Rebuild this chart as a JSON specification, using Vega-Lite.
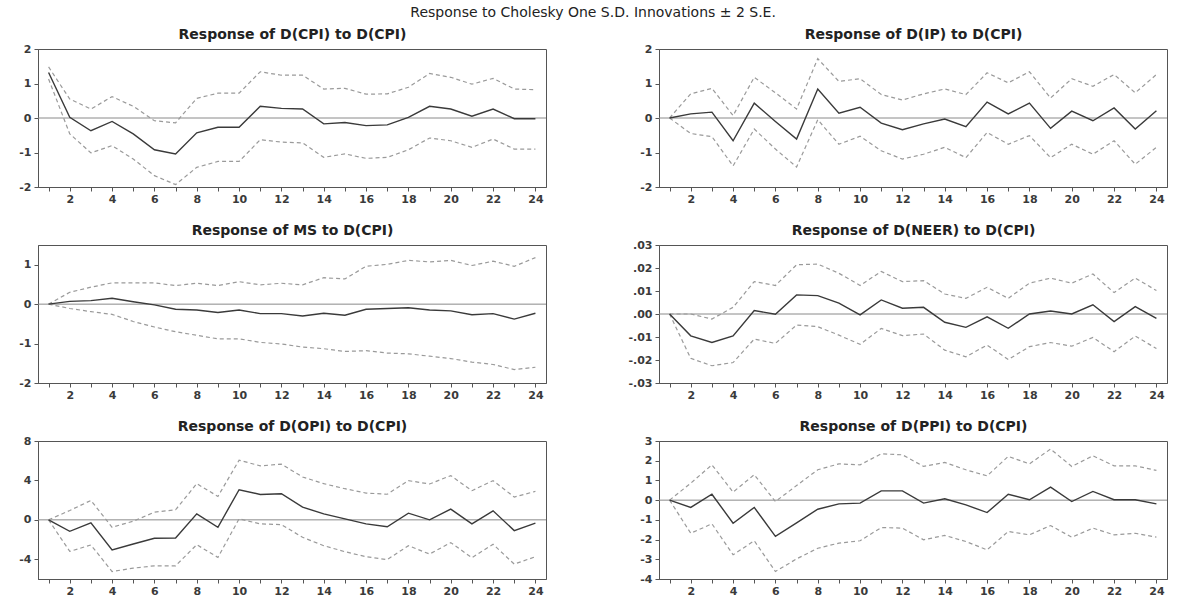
{
  "$schema": "https://vega.github.io/schema/vega-lite/v6.json",
  "background": "white",
  "padding": {"left": 18, "top": 5, "right": 4, "bottom": 0},
  "title": {"text": "Response to Cholesky One S.D. Innovations ± 2 S.E.", "fontSize": 14, "fontWeight": "normal", "anchor": "middle", "offset": 7},
  "datasets": {
    "cpi": [
      {"t": 1, "r": 1.32, "u": 1.48, "l": 1.13},
      {"t": 2, "r": 0.02, "u": 0.55, "l": -0.46},
      {"t": 3, "r": -0.37, "u": 0.26, "l": -1.01},
      {"t": 4, "r": -0.10, "u": 0.62, "l": -0.80},
      {"t": 5, "r": -0.46, "u": 0.34, "l": -1.19},
      {"t": 6, "r": -0.92, "u": -0.08, "l": -1.67},
      {"t": 7, "r": -1.04, "u": -0.14, "l": -1.93},
      {"t": 8, "r": -0.43, "u": 0.57, "l": -1.43},
      {"t": 9, "r": -0.27, "u": 0.72, "l": -1.26},
      {"t": 10, "r": -0.27, "u": 0.72, "l": -1.26},
      {"t": 11, "r": 0.34, "u": 1.34, "l": -0.63},
      {"t": 12, "r": 0.28, "u": 1.24, "l": -0.70},
      {"t": 13, "r": 0.26, "u": 1.24, "l": -0.72},
      {"t": 14, "r": -0.17, "u": 0.84, "l": -1.14},
      {"t": 15, "r": -0.13, "u": 0.86, "l": -1.04},
      {"t": 16, "r": -0.22, "u": 0.69, "l": -1.17},
      {"t": 17, "r": -0.20, "u": 0.70, "l": -1.14},
      {"t": 18, "r": 0.02, "u": 0.89, "l": -0.92},
      {"t": 19, "r": 0.34, "u": 1.29, "l": -0.58},
      {"t": 20, "r": 0.26, "u": 1.18, "l": -0.66},
      {"t": 21, "r": 0.05, "u": 0.98, "l": -0.85},
      {"t": 22, "r": 0.26, "u": 1.15, "l": -0.61},
      {"t": 23, "r": -0.02, "u": 0.84, "l": -0.90},
      {"t": 24, "r": -0.02, "u": 0.82, "l": -0.90}
    ],
    "ip": [
      {"t": 1, "r": 0, "u": 0, "l": 0},
      {"t": 2, "r": 0.12, "u": 0.70, "l": -0.45},
      {"t": 3, "r": 0.17, "u": 0.86, "l": -0.54},
      {"t": 4, "r": -0.66, "u": 0.07, "l": -1.39},
      {"t": 5, "r": 0.43, "u": 1.18, "l": -0.32},
      {"t": 6, "r": -0.10, "u": 0.73, "l": -0.90},
      {"t": 7, "r": -0.61, "u": 0.26, "l": -1.42},
      {"t": 8, "r": 0.84, "u": 1.72, "l": -0.05},
      {"t": 9, "r": 0.14, "u": 1.06, "l": -0.76},
      {"t": 10, "r": 0.31, "u": 1.14, "l": -0.53},
      {"t": 11, "r": -0.15, "u": 0.68, "l": -0.95},
      {"t": 12, "r": -0.34, "u": 0.52, "l": -1.19},
      {"t": 13, "r": -0.17, "u": 0.70, "l": -1.05},
      {"t": 14, "r": -0.03, "u": 0.84, "l": -0.85},
      {"t": 15, "r": -0.25, "u": 0.68, "l": -1.15},
      {"t": 16, "r": 0.46, "u": 1.31, "l": -0.42},
      {"t": 17, "r": 0.12, "u": 1.02, "l": -0.76},
      {"t": 18, "r": 0.43, "u": 1.34, "l": -0.51},
      {"t": 19, "r": -0.30, "u": 0.58, "l": -1.15},
      {"t": 20, "r": 0.20, "u": 1.14, "l": -0.76},
      {"t": 21, "r": -0.08, "u": 0.92, "l": -1.05},
      {"t": 22, "r": 0.29, "u": 1.26, "l": -0.66},
      {"t": 23, "r": -0.32, "u": 0.73, "l": -1.34},
      {"t": 24, "r": 0.21, "u": 1.26, "l": -0.85}
    ],
    "ms": [
      {"t": 1, "r": 0, "u": 0, "l": 0},
      {"t": 2, "r": 0.07, "u": 0.30, "l": -0.11},
      {"t": 3, "r": 0.09, "u": 0.43, "l": -0.19},
      {"t": 4, "r": 0.15, "u": 0.54, "l": -0.26},
      {"t": 5, "r": 0.06, "u": 0.54, "l": -0.44},
      {"t": 6, "r": -0.02, "u": 0.54, "l": -0.58},
      {"t": 7, "r": -0.13, "u": 0.47, "l": -0.70},
      {"t": 8, "r": -0.15, "u": 0.53, "l": -0.79},
      {"t": 9, "r": -0.21, "u": 0.47, "l": -0.88},
      {"t": 10, "r": -0.15, "u": 0.57, "l": -0.88},
      {"t": 11, "r": -0.24, "u": 0.49, "l": -0.97},
      {"t": 12, "r": -0.24, "u": 0.53, "l": -1.01},
      {"t": 13, "r": -0.30, "u": 0.49, "l": -1.09},
      {"t": 14, "r": -0.23, "u": 0.67, "l": -1.13},
      {"t": 15, "r": -0.28, "u": 0.64, "l": -1.20},
      {"t": 16, "r": -0.13, "u": 0.96, "l": -1.18},
      {"t": 17, "r": -0.11, "u": 1.01, "l": -1.24},
      {"t": 18, "r": -0.09, "u": 1.11, "l": -1.26},
      {"t": 19, "r": -0.15, "u": 1.07, "l": -1.32},
      {"t": 20, "r": -0.17, "u": 1.11, "l": -1.38},
      {"t": 21, "r": -0.27, "u": 0.98, "l": -1.47},
      {"t": 22, "r": -0.24, "u": 1.09, "l": -1.53},
      {"t": 23, "r": -0.38, "u": 0.96, "l": -1.66},
      {"t": 24, "r": -0.23, "u": 1.18, "l": -1.60}
    ],
    "neer": [
      {"t": 1, "r": 0, "u": 0, "l": 0},
      {"t": 2, "r": -0.0095, "u": 0.0000, "l": -0.0193},
      {"t": 3, "r": -0.0124, "u": -0.0022, "l": -0.0225},
      {"t": 4, "r": -0.0095, "u": 0.0029, "l": -0.0211},
      {"t": 5, "r": 0.0015, "u": 0.0141, "l": -0.0109},
      {"t": 6, "r": -0.0001, "u": 0.0124, "l": -0.0128},
      {"t": 7, "r": 0.0083, "u": 0.0214, "l": -0.0048},
      {"t": 8, "r": 0.0080, "u": 0.0217, "l": -0.0055},
      {"t": 9, "r": 0.0047, "u": 0.0177, "l": -0.0092},
      {"t": 10, "r": -0.0004, "u": 0.0124, "l": -0.0132},
      {"t": 11, "r": 0.0061, "u": 0.0185, "l": -0.0063},
      {"t": 12, "r": 0.0025, "u": 0.0141, "l": -0.0094},
      {"t": 13, "r": 0.0029, "u": 0.0145, "l": -0.0087},
      {"t": 14, "r": -0.0036, "u": 0.0087, "l": -0.0157},
      {"t": 15, "r": -0.0058, "u": 0.0068, "l": -0.0186},
      {"t": 16, "r": -0.0012, "u": 0.0116, "l": -0.0135},
      {"t": 17, "r": -0.0062, "u": 0.0068, "l": -0.0198},
      {"t": 18, "r": 0.0000, "u": 0.0134, "l": -0.0142},
      {"t": 19, "r": 0.0013, "u": 0.0156, "l": -0.0124},
      {"t": 20, "r": 0.0000, "u": 0.0134, "l": -0.0140},
      {"t": 21, "r": 0.0040, "u": 0.0174, "l": -0.0102},
      {"t": 22, "r": -0.0033, "u": 0.0093, "l": -0.0164},
      {"t": 23, "r": 0.0032, "u": 0.0156, "l": -0.0096},
      {"t": 24, "r": -0.0019, "u": 0.0102, "l": -0.0150}
    ],
    "opi": [
      {"t": 1, "r": 0, "u": 0, "l": 0},
      {"t": 2, "r": -1.16, "u": 0.95, "l": -3.20},
      {"t": 3, "r": -0.31, "u": 1.97, "l": -2.55},
      {"t": 4, "r": -3.06, "u": -0.75, "l": -5.24},
      {"t": 5, "r": -2.45, "u": -0.14, "l": -4.90},
      {"t": 6, "r": -1.87, "u": 0.78, "l": -4.66},
      {"t": 7, "r": -1.84, "u": 1.02, "l": -4.66},
      {"t": 8, "r": 0.61, "u": 3.67, "l": -2.52},
      {"t": 9, "r": -0.75, "u": 2.38, "l": -3.81},
      {"t": 10, "r": 3.06, "u": 6.05, "l": 0.10},
      {"t": 11, "r": 2.58, "u": 5.48, "l": -0.41},
      {"t": 12, "r": 2.65, "u": 5.65, "l": -0.48},
      {"t": 13, "r": 1.29, "u": 4.35, "l": -1.77},
      {"t": 14, "r": 0.61, "u": 3.67, "l": -2.62},
      {"t": 15, "r": 0.10, "u": 3.16, "l": -3.23},
      {"t": 16, "r": -0.41, "u": 2.72, "l": -3.74},
      {"t": 17, "r": -0.70, "u": 2.60, "l": -4.03},
      {"t": 18, "r": 0.68, "u": 3.98, "l": -2.62},
      {"t": 19, "r": 0.00, "u": 3.64, "l": -3.47},
      {"t": 20, "r": 1.09, "u": 4.49, "l": -2.31},
      {"t": 21, "r": -0.41, "u": 2.96, "l": -3.84},
      {"t": 22, "r": 0.92, "u": 3.98, "l": -2.48},
      {"t": 23, "r": -1.09, "u": 2.31, "l": -4.49},
      {"t": 24, "r": -0.34, "u": 2.89, "l": -3.74}
    ],
    "ppi": [
      {"t": 1, "r": 0, "u": 0, "l": 0},
      {"t": 2, "r": -0.37, "u": 0.86, "l": -1.68},
      {"t": 3, "r": 0.30, "u": 1.79, "l": -1.20},
      {"t": 4, "r": -1.17, "u": 0.41, "l": -2.77},
      {"t": 5, "r": -0.37, "u": 1.29, "l": -2.06},
      {"t": 6, "r": -1.84, "u": -0.07, "l": -3.62},
      {"t": 7, "r": -1.15, "u": 0.74, "l": -2.98},
      {"t": 8, "r": -0.46, "u": 1.54, "l": -2.44},
      {"t": 9, "r": -0.19, "u": 1.84, "l": -2.18},
      {"t": 10, "r": -0.15, "u": 1.79, "l": -2.06},
      {"t": 11, "r": 0.47, "u": 2.35, "l": -1.39},
      {"t": 12, "r": 0.47, "u": 2.30, "l": -1.42},
      {"t": 13, "r": -0.15, "u": 1.71, "l": -2.01},
      {"t": 14, "r": 0.07, "u": 1.91, "l": -1.79},
      {"t": 15, "r": -0.24, "u": 1.54, "l": -2.10},
      {"t": 16, "r": -0.63, "u": 1.23, "l": -2.52},
      {"t": 17, "r": 0.30, "u": 2.22, "l": -1.59},
      {"t": 18, "r": 0.02, "u": 1.84, "l": -1.76},
      {"t": 19, "r": 0.66, "u": 2.59, "l": -1.29},
      {"t": 20, "r": -0.07, "u": 1.71, "l": -1.88},
      {"t": 21, "r": 0.44, "u": 2.25, "l": -1.42},
      {"t": 22, "r": 0.02, "u": 1.74, "l": -1.76},
      {"t": 23, "r": 0.02, "u": 1.74, "l": -1.68},
      {"t": 24, "r": -0.19, "u": 1.51, "l": -1.88}
    ]
  },
  "columns": 2,
  "align": "each",
  "spacing": {"row": 16, "column": 80},
  "concat": [
    {
      "width": 508, "height": 138,
      "data": {"name": "cpi"},
      "layer": [
        {"transform": [{"filter": "datum.t == 1"}], "mark": {"type": "rule", "color": "#8a8a8a", "strokeWidth": 1}, "encoding": {"y": {"datum": 0, "type": "quantitative", "scale": {"domain": [-2, 2], "nice": false, "zero": false}, "axis": {"values": [-2, -1, 0, 1, 2], "labelExpr": "replace(datum.label, '−', '-')", "title": null}}}},
        {"mark": {"type": "line", "color": "#9a9a9a", "strokeWidth": 1.2, "strokeDash": [4, 3]}, "encoding": {"x": {"field": "t", "type": "quantitative", "scale": {"domain": [0.5, 24.5], "nice": false, "zero": false}, "axis": {"orient": "bottom", "values": [1,2,3,4,5,6,7,8,9,10,11,12,13,14,15,16,17,18,19,20,21,22,23,24], "labelExpr": "datum.value % 2 == 0 ? datum.label : ''", "title": null}}, "y": {"field": "u", "type": "quantitative", "scale": {"domain": [-2, 2], "nice": false, "zero": false}, "axis": {"values": [-2, -1, 0, 1, 2], "labelExpr": "replace(datum.label, '−', '-')", "title": null}}}},
        {"mark": {"type": "line", "color": "#9a9a9a", "strokeWidth": 1.2, "strokeDash": [4, 3]}, "encoding": {"x": {"field": "t", "type": "quantitative", "scale": {"domain": [0.5, 24.5], "nice": false, "zero": false}, "axis": {"orient": "top", "title": "Response of D(CPI) to D(CPI)", "labels": false, "ticks": false, "domain": false, "minExtent": 0, "maxExtent": 0}}, "y": {"field": "l", "type": "quantitative", "scale": {"domain": [-2, 2], "nice": false, "zero": false}, "axis": {"values": [-2, -1, 0, 1, 2], "labelExpr": "replace(datum.label, '−', '-')", "title": null}}}},
        {"mark": {"type": "line", "color": "#3a3a3a", "strokeWidth": 1.4}, "encoding": {"x": {"field": "t", "type": "quantitative", "scale": {"domain": [0.5, 24.5], "nice": false, "zero": false}, "axis": null}, "y": {"field": "r", "type": "quantitative", "scale": {"domain": [-2, 2], "nice": false, "zero": false}, "axis": {"values": [-2, -1, 0, 1, 2], "labelExpr": "replace(datum.label, '−', '-')", "title": null}}}}
      ]
    },
    {
      "width": 508, "height": 138,
      "data": {"name": "ip"},
      "layer": [
        {"transform": [{"filter": "datum.t == 1"}], "mark": {"type": "rule", "color": "#8a8a8a", "strokeWidth": 1}, "encoding": {"y": {"datum": 0, "type": "quantitative", "scale": {"domain": [-2, 2], "nice": false, "zero": false}, "axis": {"values": [-2, -1, 0, 1, 2], "labelExpr": "replace(datum.label, '−', '-')", "title": null}}}},
        {"mark": {"type": "line", "color": "#9a9a9a", "strokeWidth": 1.2, "strokeDash": [4, 3]}, "encoding": {"x": {"field": "t", "type": "quantitative", "scale": {"domain": [0.5, 24.5], "nice": false, "zero": false}, "axis": {"orient": "bottom", "values": [1,2,3,4,5,6,7,8,9,10,11,12,13,14,15,16,17,18,19,20,21,22,23,24], "labelExpr": "datum.value % 2 == 0 ? datum.label : ''", "title": null}}, "y": {"field": "u", "type": "quantitative", "scale": {"domain": [-2, 2], "nice": false, "zero": false}, "axis": {"values": [-2, -1, 0, 1, 2], "labelExpr": "replace(datum.label, '−', '-')", "title": null}}}},
        {"mark": {"type": "line", "color": "#9a9a9a", "strokeWidth": 1.2, "strokeDash": [4, 3]}, "encoding": {"x": {"field": "t", "type": "quantitative", "scale": {"domain": [0.5, 24.5], "nice": false, "zero": false}, "axis": {"orient": "top", "title": "Response of D(IP) to D(CPI)", "labels": false, "ticks": false, "domain": false, "minExtent": 0, "maxExtent": 0}}, "y": {"field": "l", "type": "quantitative", "scale": {"domain": [-2, 2], "nice": false, "zero": false}, "axis": {"values": [-2, -1, 0, 1, 2], "labelExpr": "replace(datum.label, '−', '-')", "title": null}}}},
        {"mark": {"type": "line", "color": "#3a3a3a", "strokeWidth": 1.4}, "encoding": {"x": {"field": "t", "type": "quantitative", "scale": {"domain": [0.5, 24.5], "nice": false, "zero": false}, "axis": null}, "y": {"field": "r", "type": "quantitative", "scale": {"domain": [-2, 2], "nice": false, "zero": false}, "axis": {"values": [-2, -1, 0, 1, 2], "labelExpr": "replace(datum.label, '−', '-')", "title": null}}}}
      ]
    },
    {
      "width": 508, "height": 138,
      "data": {"name": "ms"},
      "layer": [
        {"transform": [{"filter": "datum.t == 1"}], "mark": {"type": "rule", "color": "#8a8a8a", "strokeWidth": 1}, "encoding": {"y": {"datum": 0, "type": "quantitative", "scale": {"domain": [-2, 1.5], "nice": false, "zero": false}, "axis": {"values": [-2, -1, 0, 1], "labelExpr": "replace(datum.label, '−', '-')", "title": null}}}},
        {"mark": {"type": "line", "color": "#9a9a9a", "strokeWidth": 1.2, "strokeDash": [4, 3]}, "encoding": {"x": {"field": "t", "type": "quantitative", "scale": {"domain": [0.5, 24.5], "nice": false, "zero": false}, "axis": {"orient": "bottom", "values": [1,2,3,4,5,6,7,8,9,10,11,12,13,14,15,16,17,18,19,20,21,22,23,24], "labelExpr": "datum.value % 2 == 0 ? datum.label : ''", "title": null}}, "y": {"field": "u", "type": "quantitative", "scale": {"domain": [-2, 1.5], "nice": false, "zero": false}, "axis": {"values": [-2, -1, 0, 1], "labelExpr": "replace(datum.label, '−', '-')", "title": null}}}},
        {"mark": {"type": "line", "color": "#9a9a9a", "strokeWidth": 1.2, "strokeDash": [4, 3]}, "encoding": {"x": {"field": "t", "type": "quantitative", "scale": {"domain": [0.5, 24.5], "nice": false, "zero": false}, "axis": {"orient": "top", "title": "Response of MS to D(CPI)", "labels": false, "ticks": false, "domain": false, "minExtent": 0, "maxExtent": 0}}, "y": {"field": "l", "type": "quantitative", "scale": {"domain": [-2, 1.5], "nice": false, "zero": false}, "axis": {"values": [-2, -1, 0, 1], "labelExpr": "replace(datum.label, '−', '-')", "title": null}}}},
        {"mark": {"type": "line", "color": "#3a3a3a", "strokeWidth": 1.4}, "encoding": {"x": {"field": "t", "type": "quantitative", "scale": {"domain": [0.5, 24.5], "nice": false, "zero": false}, "axis": null}, "y": {"field": "r", "type": "quantitative", "scale": {"domain": [-2, 1.5], "nice": false, "zero": false}, "axis": {"values": [-2, -1, 0, 1], "labelExpr": "replace(datum.label, '−', '-')", "title": null}}}}
      ]
    },
    {
      "width": 508, "height": 138,
      "data": {"name": "neer"},
      "layer": [
        {"transform": [{"filter": "datum.t == 1"}], "mark": {"type": "rule", "color": "#8a8a8a", "strokeWidth": 1}, "encoding": {"y": {"datum": 0, "type": "quantitative", "scale": {"domain": [-0.03, 0.03], "nice": false, "zero": false}, "axis": {"values": [-0.03, -0.02, -0.01, 0, 0.01, 0.02, 0.03], "labelExpr": "replace(replace(replace(format(datum.value, '.2f'), '0.', '.'), '−', '-'), '-.00', '.00')", "title": null}}}},
        {"mark": {"type": "line", "color": "#9a9a9a", "strokeWidth": 1.2, "strokeDash": [4, 3]}, "encoding": {"x": {"field": "t", "type": "quantitative", "scale": {"domain": [0.5, 24.5], "nice": false, "zero": false}, "axis": {"orient": "bottom", "values": [1,2,3,4,5,6,7,8,9,10,11,12,13,14,15,16,17,18,19,20,21,22,23,24], "labelExpr": "datum.value % 2 == 0 ? datum.label : ''", "title": null}}, "y": {"field": "u", "type": "quantitative", "scale": {"domain": [-0.03, 0.03], "nice": false, "zero": false}, "axis": {"values": [-0.03, -0.02, -0.01, 0, 0.01, 0.02, 0.03], "labelExpr": "replace(replace(replace(format(datum.value, '.2f'), '0.', '.'), '−', '-'), '-.00', '.00')", "title": null}}}},
        {"mark": {"type": "line", "color": "#9a9a9a", "strokeWidth": 1.2, "strokeDash": [4, 3]}, "encoding": {"x": {"field": "t", "type": "quantitative", "scale": {"domain": [0.5, 24.5], "nice": false, "zero": false}, "axis": {"orient": "top", "title": "Response of D(NEER) to D(CPI)", "labels": false, "ticks": false, "domain": false, "minExtent": 0, "maxExtent": 0}}, "y": {"field": "l", "type": "quantitative", "scale": {"domain": [-0.03, 0.03], "nice": false, "zero": false}, "axis": {"values": [-0.03, -0.02, -0.01, 0, 0.01, 0.02, 0.03], "labelExpr": "replace(replace(replace(format(datum.value, '.2f'), '0.', '.'), '−', '-'), '-.00', '.00')", "title": null}}}},
        {"mark": {"type": "line", "color": "#3a3a3a", "strokeWidth": 1.4}, "encoding": {"x": {"field": "t", "type": "quantitative", "scale": {"domain": [0.5, 24.5], "nice": false, "zero": false}, "axis": null}, "y": {"field": "r", "type": "quantitative", "scale": {"domain": [-0.03, 0.03], "nice": false, "zero": false}, "axis": {"values": [-0.03, -0.02, -0.01, 0, 0.01, 0.02, 0.03], "labelExpr": "replace(replace(replace(format(datum.value, '.2f'), '0.', '.'), '−', '-'), '-.00', '.00')", "title": null}}}}
      ]
    },
    {
      "width": 508, "height": 138,
      "data": {"name": "opi"},
      "layer": [
        {"transform": [{"filter": "datum.t == 1"}], "mark": {"type": "rule", "color": "#8a8a8a", "strokeWidth": 1}, "encoding": {"y": {"datum": 0, "type": "quantitative", "scale": {"domain": [-6, 8], "nice": false, "zero": false}, "axis": {"values": [-4, 0, 4, 8], "labelExpr": "replace(datum.label, '−', '-')", "title": null}}}},
        {"mark": {"type": "line", "color": "#9a9a9a", "strokeWidth": 1.2, "strokeDash": [4, 3]}, "encoding": {"x": {"field": "t", "type": "quantitative", "scale": {"domain": [0.5, 24.5], "nice": false, "zero": false}, "axis": {"orient": "bottom", "values": [1,2,3,4,5,6,7,8,9,10,11,12,13,14,15,16,17,18,19,20,21,22,23,24], "labelExpr": "datum.value % 2 == 0 ? datum.label : ''", "title": null}}, "y": {"field": "u", "type": "quantitative", "scale": {"domain": [-6, 8], "nice": false, "zero": false}, "axis": {"values": [-4, 0, 4, 8], "labelExpr": "replace(datum.label, '−', '-')", "title": null}}}},
        {"mark": {"type": "line", "color": "#9a9a9a", "strokeWidth": 1.2, "strokeDash": [4, 3]}, "encoding": {"x": {"field": "t", "type": "quantitative", "scale": {"domain": [0.5, 24.5], "nice": false, "zero": false}, "axis": {"orient": "top", "title": "Response of D(OPI) to D(CPI)", "labels": false, "ticks": false, "domain": false, "minExtent": 0, "maxExtent": 0}}, "y": {"field": "l", "type": "quantitative", "scale": {"domain": [-6, 8], "nice": false, "zero": false}, "axis": {"values": [-4, 0, 4, 8], "labelExpr": "replace(datum.label, '−', '-')", "title": null}}}},
        {"mark": {"type": "line", "color": "#3a3a3a", "strokeWidth": 1.4}, "encoding": {"x": {"field": "t", "type": "quantitative", "scale": {"domain": [0.5, 24.5], "nice": false, "zero": false}, "axis": null}, "y": {"field": "r", "type": "quantitative", "scale": {"domain": [-6, 8], "nice": false, "zero": false}, "axis": {"values": [-4, 0, 4, 8], "labelExpr": "replace(datum.label, '−', '-')", "title": null}}}}
      ]
    },
    {
      "width": 508, "height": 138,
      "data": {"name": "ppi"},
      "layer": [
        {"transform": [{"filter": "datum.t == 1"}], "mark": {"type": "rule", "color": "#8a8a8a", "strokeWidth": 1}, "encoding": {"y": {"datum": 0, "type": "quantitative", "scale": {"domain": [-4, 3], "nice": false, "zero": false}, "axis": {"values": [-4, -3, -2, -1, 0, 1, 2, 3], "labelExpr": "replace(datum.label, '−', '-')", "title": null}}}},
        {"mark": {"type": "line", "color": "#9a9a9a", "strokeWidth": 1.2, "strokeDash": [4, 3]}, "encoding": {"x": {"field": "t", "type": "quantitative", "scale": {"domain": [0.5, 24.5], "nice": false, "zero": false}, "axis": {"orient": "bottom", "values": [1,2,3,4,5,6,7,8,9,10,11,12,13,14,15,16,17,18,19,20,21,22,23,24], "labelExpr": "datum.value % 2 == 0 ? datum.label : ''", "title": null}}, "y": {"field": "u", "type": "quantitative", "scale": {"domain": [-4, 3], "nice": false, "zero": false}, "axis": {"values": [-4, -3, -2, -1, 0, 1, 2, 3], "labelExpr": "replace(datum.label, '−', '-')", "title": null}}}},
        {"mark": {"type": "line", "color": "#9a9a9a", "strokeWidth": 1.2, "strokeDash": [4, 3]}, "encoding": {"x": {"field": "t", "type": "quantitative", "scale": {"domain": [0.5, 24.5], "nice": false, "zero": false}, "axis": {"orient": "top", "title": "Response of D(PPI) to D(CPI)", "labels": false, "ticks": false, "domain": false, "minExtent": 0, "maxExtent": 0}}, "y": {"field": "l", "type": "quantitative", "scale": {"domain": [-4, 3], "nice": false, "zero": false}, "axis": {"values": [-4, -3, -2, -1, 0, 1, 2, 3], "labelExpr": "replace(datum.label, '−', '-')", "title": null}}}},
        {"mark": {"type": "line", "color": "#3a3a3a", "strokeWidth": 1.4}, "encoding": {"x": {"field": "t", "type": "quantitative", "scale": {"domain": [0.5, 24.5], "nice": false, "zero": false}, "axis": null}, "y": {"field": "r", "type": "quantitative", "scale": {"domain": [-4, 3], "nice": false, "zero": false}, "axis": {"values": [-4, -3, -2, -1, 0, 1, 2, 3], "labelExpr": "replace(datum.label, '−', '-')", "title": null}}}}
      ]
    }
  ],
  "config": {
    "font": "DejaVu Sans",
    "view": {"stroke": "#555", "strokeWidth": 1},
    "axis": {"labelFont": "DejaVu Sans", "labelFontSize": 11, "labelFontWeight": "bold", "labelColor": "#3a3a3a", "domainColor": "#555", "tickColor": "#555", "grid": false, "tickSize": 4, "labelOverlap": false, "titleFont": "DejaVu Sans", "titleFontSize": 14, "titleFontWeight": "bold", "titleColor": "#222", "titlePadding": 8},
    "axisX": {"labelPadding": 2, "minExtent": 18, "maxExtent": 18, "labelFlush": false},
    "axisY": {"labelPadding": 3},
    "title": {"font": "DejaVu Sans", "color": "#222"}
  }
}
